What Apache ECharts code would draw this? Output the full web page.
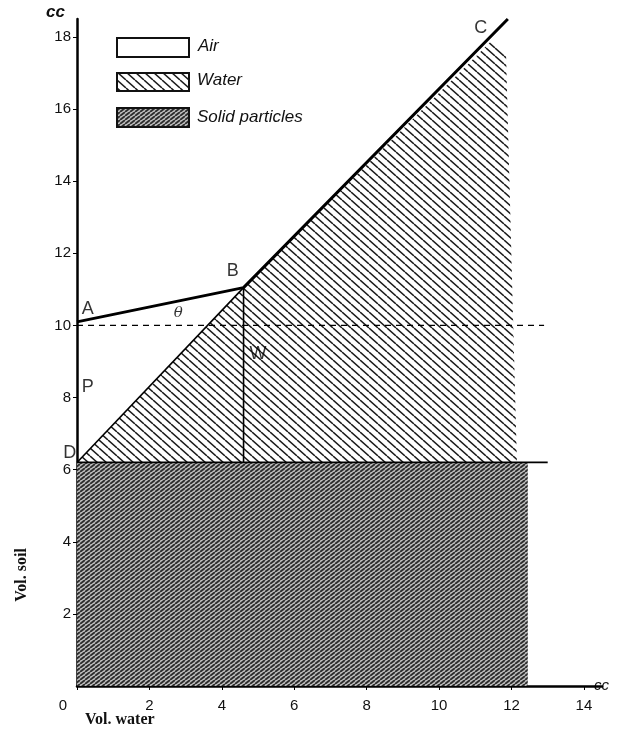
<!DOCTYPE html>
<html><head><meta charset="utf-8">
<script src="https://cdn.jsdelivr.net/npm/echarts@6/dist/echarts.min.js"></script>
<style>html,body{margin:0;padding:0;background:#fff}#c{width:624px;height:738px}</style>
</head><body><div id="c"></div>
<script>
// ---- data ----
const xTickValues = [0, 2, 4, 6, 8, 10, 12, 14];
const yTickValues = [2, 4, 6, 8, 10, 12, 14, 16, 18];
const lineABC = [[0, 10.1], [4.6, 11.05], [11.9, 18.5]];
const lineDB = [[0, 6.2], [4.6, 11.05]];
const lineBW = [[4.6, 11.05], [4.6, 6.2]];
const lineSoil = [[0, 6.2], [13.0, 6.2]];
const lineDashed = [[0, 10], [12.9, 10]];
const waterRegion = [[0, 6.2], [4.6, 11.05], [11.45, 17.9], [11.85, 17.5], [12.15, 6.2]];
const solidRegion = [[0, 0], [12.45, 0], [12.45, 6.2], [0, 6.2]];
const pointNames = ['A', 'B', 'C', 'D', 'P', 'W', 'θ'];
const pointPos = [[0.3, 10.45], [4.3, 11.5], [11.15, 18.25], [-0.2, 6.45], [0.3, 8.3], [5.0, 9.2], [2.8, 10.35]];
const legendNames = ['Air', 'Water', 'Solid particles'];

function makePattern(w, h, lw, color, dir, bg) {
  const c = document.createElement('canvas');
  c.width = w; c.height = h;
  const g = c.getContext('2d');
  g.fillStyle = bg || '#fff'; g.fillRect(0, 0, w, h);
  g.strokeStyle = color; g.lineWidth = lw;
  for (let k = -1; k <= 1; k++) {
    g.beginPath();
    if (dir === 'back') { g.moveTo(k * w, 0); g.lineTo(k * w + w, h); }
    else { g.moveTo(k * w, h); g.lineTo(k * w + w, 0); }
    g.stroke();
  }
  return { image: c, repeat: 'repeat' };
}
const waterFill = makePattern(9, 8, 1.5, '#1a1a1a', 'back', '#fff');
const solidFill = makePattern(5, 4, 1.9, '#2e2e2e', 'fwd', '#c4c4c4');

function polySeries(pts, fill) {
  return {
    type: 'custom', silent: true, z: 1,
    data: [0],
    renderItem: function (params, api) {
      return { type: 'polygon', shape: { points: pts.map(p => api.coord(p)) }, style: { fill: fill, stroke: null } };
    }
  };
}
function lineSeries(pts, w, dashed) {
  return { type: 'line', data: pts, symbol: 'none', silent: true, z: 3,
    lineStyle: { color: '#000', width: w, type: dashed ? [6, 5] : 'solid' } };
}

const chart = echarts.init(document.getElementById('c'), null, { renderer: 'canvas' });
const baseFont = 'Liberation Sans';
chart.setOption({
  animation: false,
  backgroundColor: '#fff',
  grid: { left: 77, right: 22, top: 19, bottom: 52, containLabel: false },
  xAxis: {
    type: 'value', min: 0, max: 14.5, interval: 2,
    splitLine: { show: false },
    axisLine: { lineStyle: { color: '#000', width: 2.5 } },
    axisTick: { show: true, length: 4, lineStyle: { color: '#000' }, customValues: xTickValues },
    axisLabel: {
      customValues: xTickValues, color: '#111', fontFamily: baseFont, fontSize: 15, margin: 12,
      formatter: v => v === 0 ? '{z|0}' : String(v),
      rich: { z: { padding: [0, 28, 0, 0], fontFamily: baseFont, fontSize: 15, color: '#111' } }
    },
    name: 'cc', nameLocation: 'end', nameGap: -8,
    nameTextStyle: { color: '#111', fontFamily: baseFont, fontStyle: 'italic', fontSize: 15, padding: [28, 0, 0, 0] }
  },
  yAxis: {
    type: 'value', min: 0, max: 18.5, interval: 2,
    splitLine: { show: false },
    axisLine: { lineStyle: { color: '#000', width: 2.5 } },
    axisTick: { show: true, length: 4, lineStyle: { color: '#000' }, customValues: yTickValues },
    axisLabel: { customValues: yTickValues, color: '#111', fontFamily: baseFont, fontSize: 15, margin: 6 },
  },
  graphic: [
    { type: 'text', left: 46, top: 4, style: { text: 'cc', font: 'italic bold 17px ' + baseFont, fill: '#111' } },
    { type: 'text', left: 85, top: 712, style: { text: 'Vol. water', font: 'bold 16px "Liberation Serif"', fill: '#111' } },
    { type: 'text', x: 22, y: 575, rotation: Math.PI / 2, style: { text: 'Vol. soil', font: 'bold 16px "Liberation Serif"', fill: '#111', textAlign: 'center', textVerticalAlign: 'middle' } },
    { type: 'rect', shape: { x: 117, y: 38, width: 72, height: 19 }, style: { fill: '#fff', stroke: '#111', lineWidth: 2 } },
    { type: 'rect', shape: { x: 117, y: 73, width: 72, height: 18 }, style: { fill: waterFill, stroke: '#111', lineWidth: 2 } },
    { type: 'rect', shape: { x: 117, y: 108, width: 72, height: 19 }, style: { fill: solidFill, stroke: '#111', lineWidth: 2 } },
    { type: 'text', left: 198, top: 38, style: { text: legendNames[0], font: 'italic 17px ' + baseFont, fill: '#111' } },
    { type: 'text', left: 197, top: 72, style: { text: legendNames[1], font: 'italic 17px ' + baseFont, fill: '#111' } },
    { type: 'text', left: 197, top: 109, style: { text: legendNames[2], font: 'italic 17px ' + baseFont, fill: '#111' } }
  ],
  series: [
    polySeries(solidRegion, solidFill),
    polySeries(waterRegion, waterFill),
    lineSeries(lineABC, 3),
    lineSeries(lineDB, 1.6),
    lineSeries(lineBW, 1.6),
    lineSeries(lineSoil, 1.8),
    lineSeries(lineDashed, 1.3, true),
    {
      type: 'scatter', symbolSize: 0, z: 4, silent: true, clip: false,
      data: pointNames.map((n, i) => ({ name: n, value: pointPos[i],
        label: n === 'θ' ? { fontStyle: 'italic', fontFamily: 'DejaVu Serif', fontSize: 15 } : {} })),
      label: { show: true, position: 'inside', formatter: p => p.name, color: '#000', fontFamily: baseFont, fontSize: 18 }
    }
  ]
});
</script></body></html>
